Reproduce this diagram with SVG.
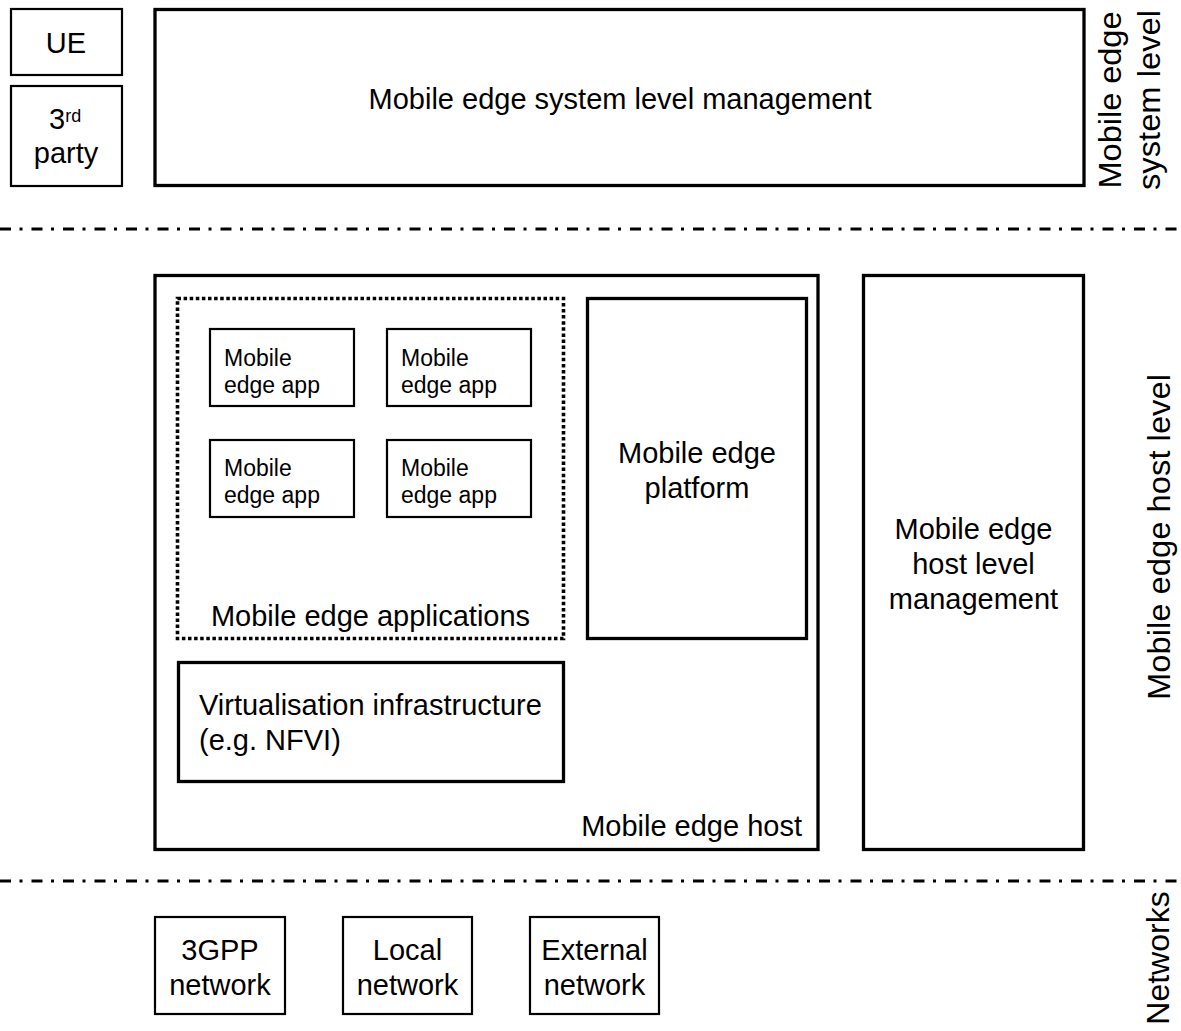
<svg xmlns="http://www.w3.org/2000/svg" width="1181" height="1031" viewBox="0 0 1181 1031">
<style>
  text { font-family: "Liberation Sans", Arial, sans-serif; fill: #000; }
  .t { font-size: 29px; }
  .ts { font-size: 23px; }
  .tr { font-size: 32px; }
  .mid { text-anchor: middle; }
  .box2 { fill: #fff; stroke: #000; stroke-width: 2.2; }
  .box3 { fill: #fff; stroke: #000; stroke-width: 3.3; }
  .dotted { fill: none; stroke: #000; stroke-width: 3.6; stroke-dasharray: 3.5 2.6; }
  .sep { stroke: #000; stroke-width: 3; stroke-dasharray: 11 8.5 3 9; fill: none; }
</style>
<rect width="1181" height="1031" fill="#fff"/>

<g id="separators">
  <line class="sep" x1="0" y1="229" x2="1181" y2="229"/>
  <line class="sep" x1="0" y1="881" x2="1181" y2="881"/>
</g>

<g id="ue">
  <rect class="box2" x="11" y="9" width="111" height="66"/>
  <text class="t mid" x="66" y="53">UE</text>
</g>
<g id="third-party">
  <rect class="box2" x="11" y="86" width="111" height="100"/>
  <text class="t" x="49" y="129">3<tspan font-size="18" dy="-7">rd</tspan></text>
  <text class="t mid" x="66" y="163">party</text>
</g>
<g id="system-mgmt">
  <rect class="box3" x="155" y="9.5" width="929" height="176"/>
  <text class="t mid" x="620" y="109">Mobile edge system level management</text>
</g>

<g id="host">
  <rect class="box3" x="155" y="275.5" width="663" height="574"/>
  <text class="t" x="802" y="836" text-anchor="end">Mobile edge host</text>
</g>
<g id="applications">
  <rect class="dotted" x="177.5" y="298.5" width="386" height="340"/>
  <text class="t mid" x="370.5" y="626">Mobile edge applications</text>
</g>
<g id="app1">
  <rect class="box2" x="210" y="329" width="144" height="77"/>
  <text class="ts" x="224" y="366">Mobile</text>
  <text class="ts" x="224" y="393">edge app</text>
</g>
<g id="app2">
  <rect class="box2" x="387" y="329" width="144" height="77"/>
  <text class="ts" x="401" y="366">Mobile</text>
  <text class="ts" x="401" y="393">edge app</text>
</g>
<g id="app3">
  <rect class="box2" x="210" y="440" width="144" height="77"/>
  <text class="ts" x="224" y="476">Mobile</text>
  <text class="ts" x="224" y="503">edge app</text>
</g>
<g id="app4">
  <rect class="box2" x="387" y="440" width="144" height="77"/>
  <text class="ts" x="401" y="476">Mobile</text>
  <text class="ts" x="401" y="503">edge app</text>
</g>
<g id="platform">
  <rect class="box3" x="587.5" y="298.5" width="219" height="340"/>
  <text class="t mid" x="697" y="463">Mobile edge</text>
  <text class="t mid" x="697" y="498">platform</text>
</g>
<g id="virtualisation">
  <rect class="box3" x="178.5" y="662.5" width="385" height="119"/>
  <text class="t" x="199" y="715">Virtualisation infrastructure</text>
  <text class="t" x="199" y="750">(e.g. NFVI)</text>
</g>
<g id="host-mgmt">
  <rect class="box3" x="863.5" y="275.5" width="220" height="574"/>
  <text class="t mid" x="973.5" y="539">Mobile edge</text>
  <text class="t mid" x="973.5" y="574">host level</text>
  <text class="t mid" x="973.5" y="609">management</text>
</g>

<g id="net-3gpp">
  <rect class="box2" x="155" y="917" width="130" height="97"/>
  <text class="t mid" x="220" y="960">3GPP</text>
  <text class="t mid" x="220" y="995">network</text>
</g>
<g id="net-local">
  <rect class="box2" x="343" y="917" width="129" height="97"/>
  <text class="t mid" x="407.5" y="960">Local</text>
  <text class="t mid" x="407.5" y="995">network</text>
</g>
<g id="net-external">
  <rect class="box2" x="530" y="917" width="129" height="97"/>
  <text class="t mid" x="594.5" y="960">External</text>
  <text class="t mid" x="594.5" y="995">network</text>
</g>

<g id="level-labels">
  <text class="tr mid" transform="translate(1121,100) rotate(-90)" textLength="177" lengthAdjust="spacingAndGlyphs">Mobile edge</text>
  <text class="tr mid" transform="translate(1160,100) rotate(-90)" textLength="180" lengthAdjust="spacingAndGlyphs">system level</text>
  <text class="tr mid" transform="translate(1170,537) rotate(-90)" textLength="326" lengthAdjust="spacingAndGlyphs">Mobile edge host level</text>
  <text class="tr mid" transform="translate(1169,958) rotate(-90)">Networks</text>
</g>
<g id="connectors"></g>
</svg>
